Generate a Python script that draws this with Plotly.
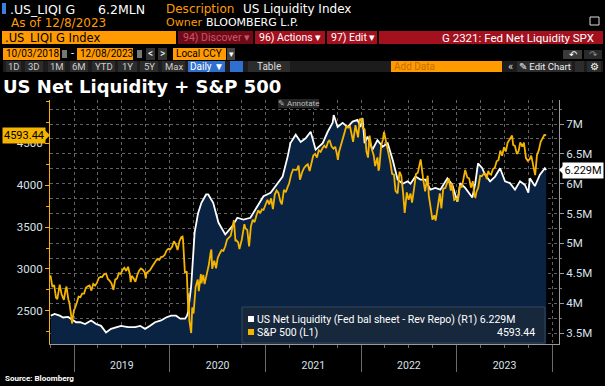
import plotly.graph_objects as go

# ---------------- data ----------------
spx_dates = [
 "2018-10-03","2018-10-10","2018-10-17","2018-10-24","2018-10-29","2018-11-02","2018-11-07","2018-11-14","2018-11-23","2018-11-30",
 "2018-12-03","2018-12-10","2018-12-14","2018-12-20","2018-12-24","2018-12-31",
 "2019-01-04","2019-01-11","2019-01-18","2019-01-25","2019-02-01","2019-02-08","2019-02-15","2019-02-22","2019-03-01","2019-03-08",
 "2019-03-15","2019-03-22","2019-03-29","2019-04-05","2019-04-12","2019-04-18","2019-04-26","2019-05-03","2019-05-10","2019-05-17",
 "2019-05-24","2019-05-31","2019-06-07","2019-06-14","2019-06-21","2019-06-28","2019-07-05","2019-07-12","2019-07-19","2019-07-26",
 "2019-08-02","2019-08-05","2019-08-09","2019-08-16","2019-08-23","2019-08-30","2019-09-06","2019-09-13","2019-09-20","2019-09-27",
 "2019-10-02","2019-10-04","2019-10-11","2019-10-18","2019-10-25","2019-11-01","2019-11-08","2019-11-15","2019-11-22","2019-11-29",
 "2019-12-06","2019-12-13","2019-12-20","2019-12-27",
 "2020-01-03","2020-01-10","2020-01-17","2020-01-24","2020-01-31","2020-02-07","2020-02-14","2020-02-19","2020-02-21","2020-02-28",
 "2020-03-06","2020-03-12","2020-03-13","2020-03-16","2020-03-20","2020-03-23","2020-03-27","2020-04-01","2020-04-09","2020-04-17",
 "2020-04-21","2020-04-29","2020-05-01","2020-05-08","2020-05-13","2020-05-22","2020-05-29","2020-06-05","2020-06-08","2020-06-11",
 "2020-06-19","2020-06-26","2020-07-02","2020-07-10","2020-07-17","2020-07-24","2020-07-31","2020-08-07","2020-08-14","2020-08-21",
 "2020-08-28","2020-09-02","2020-09-08","2020-09-11","2020-09-18","2020-09-23","2020-10-02","2020-10-12","2020-10-16","2020-10-23",
 "2020-10-30","2020-11-06","2020-11-13","2020-11-20","2020-11-27","2020-12-04","2020-12-11","2020-12-18","2020-12-24","2020-12-31",
 "2021-01-08","2021-01-15","2021-01-22","2021-01-29","2021-02-05","2021-02-12","2021-02-19","2021-02-26","2021-03-04","2021-03-12",
 "2021-03-19","2021-03-26","2021-04-01","2021-04-09","2021-04-16","2021-04-23","2021-04-30","2021-05-07","2021-05-12","2021-05-21",
 "2021-05-28","2021-06-04","2021-06-11","2021-06-18","2021-06-25","2021-07-02","2021-07-09","2021-07-16","2021-07-23","2021-07-30",
 "2021-08-06","2021-08-13","2021-08-20","2021-08-27","2021-09-02","2021-09-10","2021-09-17","2021-09-24","2021-10-01","2021-10-04",
 "2021-10-08","2021-10-15","2021-10-22","2021-10-29","2021-11-05","2021-11-12","2021-11-19","2021-11-26","2021-12-01","2021-12-10",
 "2021-12-17","2021-12-20","2021-12-27","2021-12-31",
 "2022-01-03","2022-01-07","2022-01-14","2022-01-21","2022-01-27","2022-02-02","2022-02-11","2022-02-18","2022-02-23","2022-03-04",
 "2022-03-08","2022-03-11","2022-03-18","2022-03-25","2022-03-29","2022-04-08","2022-04-14","2022-04-22","2022-04-29","2022-05-06",
 "2022-05-12","2022-05-20","2022-05-27","2022-06-03","2022-06-10","2022-06-16","2022-06-24","2022-07-01","2022-07-08","2022-07-14",
 "2022-07-22","2022-07-29","2022-08-05","2022-08-12","2022-08-16","2022-08-26","2022-09-02","2022-09-09","2022-09-12","2022-09-16",
 "2022-09-23","2022-09-30","2022-10-07","2022-10-12","2022-10-21","2022-10-28","2022-11-03","2022-11-10","2022-11-18","2022-11-25",
 "2022-12-01","2022-12-09","2022-12-13","2022-12-22","2022-12-30",
 "2023-01-05","2023-01-13","2023-01-20","2023-01-27","2023-02-02","2023-02-10","2023-02-17","2023-02-24","2023-03-03","2023-03-10",
 "2023-03-13","2023-03-17","2023-03-24","2023-03-31","2023-04-06","2023-04-14","2023-04-21","2023-04-25","2023-05-01","2023-05-05",
 "2023-05-12","2023-05-19","2023-05-26","2023-06-02","2023-06-09","2023-06-16","2023-06-23","2023-06-30","2023-07-07","2023-07-14",
 "2023-07-21","2023-07-31","2023-08-04","2023-08-11","2023-08-18","2023-08-25","2023-08-31","2023-09-08","2023-09-14","2023-09-22",
 "2023-09-29","2023-10-06","2023-10-12","2023-10-20","2023-10-27","2023-11-03","2023-11-10","2023-11-17","2023-11-24","2023-12-01",
 "2023-12-08"]
spx_values = [
 2925,2786,2809,2656,2641,2723,2814,2702,2633,2760,
 2790,2637,2600,2467,2351,2507,
 2532,2596,2671,2665,2707,2708,2776,2793,2804,2743,
 2822,2801,2834,2893,2907,2905,2940,2946,2881,2860,
 2826,2752,2873,2887,2950,2942,2990,3014,2977,3026,
 2932,2844,2919,2889,2847,2926,2979,3007,2992,2962,
 2887,2953,2970,2986,3023,3067,3093,3120,3110,3141,
 3146,3169,3221,3240,
 3235,3265,3330,3295,3226,3328,3380,3386,3338,2954,
 2972,2481,2711,2386,2305,2237,2541,2470,2790,2875,
 2737,2940,2831,2930,2820,2955,3044,3194,3232,3002,
 3098,3009,3130,3185,3225,3216,3271,3351,3373,3397,
 3508,3580,3332,3341,3319,3237,3348,3534,3484,3465,
 3270,3510,3585,3558,3638,3699,3663,3709,3703,3756,
 3824,3768,3841,3714,3886,3934,3906,3811,3768,3943,
 3913,3974,4020,4129,4185,4180,4181,4232,4063,4156,
 4204,4230,4247,4166,4281,4352,4370,4327,4412,4395,
 4437,4468,4442,4509,4537,4458,4433,4455,4357,4300,
 4391,4471,4545,4605,4697,4683,4698,4595,4513,4712,
 4621,4568,4791,4766,
 4796,4677,4663,4398,4326,4589,4419,4349,4225,4329,
 4170,4204,4463,4543,4631,4488,4393,4272,4132,4123,
 3930,3901,4158,4109,3901,3667,3912,3825,3899,3790,
 3962,4130,4145,4280,4305,4058,3924,4067,4110,3873,
 3693,3586,3640,3577,3753,3901,3720,3956,3965,4026,
 4077,3934,4019,3822,3840,
 3808,3999,3972,4071,4179,4090,4079,3970,4046,3862,
 3855,3917,3971,4109,4105,4138,4133,4071,4168,4136,
 4124,4191,4205,4282,4299,4410,4348,4450,4399,4505,
 4536,4589,4478,4464,4370,4406,4508,4457,4505,4320,
 4288,4308,4349,4224,4117,4358,4415,4514,4559,4595,
 4593.44]

liq_dates = [
 "2018-10-04","2018-10-19","2018-11-07","2018-11-20","2018-12-09","2018-12-28","2019-01-09","2019-01-24","2019-02-12","2019-03-07",
 "2019-03-26","2019-04-14","2019-05-03","2019-05-22","2019-06-10","2019-06-29","2019-07-26","2019-08-22","2019-09-10","2019-09-29",
 "2019-10-18","2019-11-06","2019-11-29","2019-12-18","2020-01-06","2020-01-25","2020-02-10","2020-02-29","2020-03-07","2020-03-11",
 "2020-03-23","2020-04-05","2020-04-18","2020-05-01","2020-05-19","2020-05-27","2020-06-15","2020-07-05","2020-07-31","2020-08-27",
 "2020-09-15","2020-10-08","2020-11-04","2020-12-05","2020-12-24","2021-01-20","2021-02-16","2021-03-07","2021-03-26","2021-04-06",
 "2021-04-26","2021-05-15","2021-06-03","2021-06-22","2021-07-11","2021-08-07","2021-08-26","2021-09-14","2021-09-18","2021-10-03",
 "2021-10-22","2021-11-10","2021-11-29","2021-12-18","2021-12-29","2022-01-06","2022-01-14","2022-01-25","2022-02-13","2022-03-04",
 "2022-03-24","2022-04-12","2022-05-01","2022-05-20","2022-06-08","2022-06-27","2022-07-08","2022-07-27","2022-08-15","2022-09-03",
 "2022-09-22","2022-10-11","2022-10-30","2022-11-26","2022-12-15","2023-01-03","2023-01-14","2023-02-02","2023-03-01","2023-03-12",
 "2023-03-23","2023-04-08","2023-04-19","2023-05-08","2023-05-27","2023-06-15","2023-07-04","2023-07-23","2023-08-11","2023-08-30",
 "2023-09-18","2023-10-01","2023-10-07","2023-10-26","2023-11-14","2023-12-03","2023-12-08"]
liq_values = [
 3.79,3.82,3.79,3.76,3.77,3.71,3.68,3.68,3.65,3.71,
 3.65,3.62,3.51,3.57,3.60,3.62,3.60,3.60,3.62,3.57,
 3.62,3.68,3.71,3.76,3.79,3.79,3.74,3.74,3.79,3.85,
 4.29,5.18,5.50,5.68,5.82,5.82,5.68,5.35,5.15,5.29,
 5.43,5.40,5.43,5.65,5.79,5.85,6.00,6.12,6.45,6.68,
 6.82,6.70,6.76,6.87,6.57,6.68,6.87,7.02,7.15,6.95,
 7.02,6.95,7.04,7.07,6.95,7.10,6.68,6.79,6.57,6.73,
 6.62,6.68,6.40,6.07,6.00,6.04,6.00,6.12,6.07,6.07,
 5.90,5.93,5.90,6.09,5.98,5.70,6.01,5.93,5.77,6.00,
 6.34,6.26,6.15,6.04,6.12,6.26,6.04,6.01,5.90,6.04,
 5.98,5.85,6.09,5.96,6.15,6.26,6.229]

year_ticks = ["2019-01-01", "2020-01-01", "2021-01-01", "2022-01-01", "2023-01-01", "2024-01-01"]
year_mid = ["2019-07-02", "2020-07-02", "2021-07-02", "2022-07-02", "2023-07-02"]
year_labels = ["2019", "2020", "2021", "2022", "2023"]
liq_name = "US Net Liquidity (Fed bal sheet - Rev Repo) (R1)"
spx_name = "S&P 500 (L1)"

# ---------------- layout helpers (pixel -> paper) ----------------
W, H = 605, 386
L, R, T, B = 50, 559, 100, 344
def fx(px): return (px - L) / (R - L)
def fy(py): return (B - py) / (B - T)

YEL = "#f4b400"
NAVY = "#0a2342"
ORANGE = "#ff9b00"
RED = "#a3101e"
FONT = "Roboto"
HFONT = "DejaVu Sans"
TICKC = "#d8e0ea"

fig = go.Figure()
fig.add_trace(go.Scatter(x=liq_dates, y=liq_values, yaxis="y", mode="lines",
                         line=dict(color="white", width=1.8), fill="tozeroy",
                         fillcolor=NAVY, name=liq_name, hoverinfo="skip"))
fig.add_trace(go.Scatter(x=spx_dates, y=spx_values, yaxis="y2", mode="lines",
                         line=dict(color=YEL, width=1.8), name=spx_name, hoverinfo="skip"))

shapes = []
ann = []
def rect(x0, y0, x1, y1, fill, line=None):
    shapes.append(dict(type="rect", xref="paper", yref="paper", x0=fx(x0), x1=fx(x1),
                       y0=fy(y1), y1=fy(y0), fillcolor=fill,
                       line=dict(width=1 if line else 0, color=line or fill), layer="above"))
def text(x, y, s, color="white", size=12, anchor="left", bold=False, family=FONT):
    if bold:
        s = "<b>" + s + "</b>"
    ann.append(dict(xref="paper", yref="paper", x=fx(x), y=fy(y), text=s, showarrow=False,
                    xanchor=anchor, yanchor="middle", font=dict(color=color, size=size, family=family),
                    borderpad=0))

# header rows 1/2
rect(2, 3, 6, 14, "#3b7fe0")
text(9, 9, ".US_LIQI G", size=12.5, family=HFONT)
text(97, 9, "6.2MLN", size=12.5, family=HFONT)
text(165, 9, "Description", color=ORANGE, size=12, family=HFONT)
text(242, 9, "US Liquidity Index", size=12, family=HFONT)
text(10, 23, "As of 12/8/2023", color=ORANGE, size=12, family=HFONT)
text(165, 23, "Owner", color=ORANGE, size=11, family=HFONT)
text(205, 23, "BLOOMBERG L.P.", size=11, family=HFONT)
rect(590, 17, 599, 25, "#000", line="#dddddd")
# row 3
rect(2, 31, 176, 44, ORANGE)
text(4, 37.5, ".US_LIQI G Index", color="black", size=11.5, family=HFONT)
rect(178, 31, 253, 44, "#6e0b16")
text(182, 37.5, "94) Discover ▾", color="#c8566a", size=10.5)
rect(255, 31, 325, 44, RED)
text(258, 37.5, "96) Actions ▾", size=10.5)
rect(327, 31, 377, 44, RED)
text(330, 37.5, "97) Edit ▾", size=10.5)
rect(379, 31, 603, 44, RED)
text(595, 37.5, "G 2321: Fed Net Liquidity SPX", size=11.5, anchor="right")
# row 4
rect(3, 48, 60, 60, ORANGE)
text(5, 54, "10/03/2018", color="black", size=10)
rect(62, 50, 67, 58, "#777")
text(70, 54, "-", size=11)
rect(77, 48, 133, 60, ORANGE)
text(79, 54, "12/08/2023", color="black", size=10)
rect(137, 50, 142, 58, "#777")
rect(146, 48, 155, 60, "#333")
text(150.5, 54, "&lt;", size=10, anchor="center")
rect(158, 48, 167, 60, "#333")
text(162.5, 54, "&gt;", size=10, anchor="center")
rect(173, 48, 226, 60, ORANGE)
text(175, 54, "Local CCY", color="black", size=10)
rect(227, 48, 235, 60, "#444")
text(231, 54, "▾", size=9, anchor="center")
rect(563, 50, 582, 59, "#3a3a3a")
text(572.5, 54.5, "↶", size=10, anchor="center")
rect(584, 50, 602, 59, "#2a2a2a")
text(593, 54.5, "↷", color="#888", size=10, anchor="center")
# row 5
rect(3, 61, 603, 72, "#1c1c1c")
for lab, a, b in [("1D", 6, 21), ("3D", 25, 43), ("1M", 48, 65), ("6M", 70, 88), ("YTD", 92, 115),
                  ("1Y", 118, 137), ("5Y", 140, 158), ("Max", 162, 185)]:
    rect(a, 61, b, 72, "#2c2c2c")
    text((a + b) / 2, 66.5, lab, color="#cfcfcf", size=9.5, anchor="center")
rect(188, 61, 225, 72, "#2f6fd0")
text(206.5, 66.5, "Daily ▼", size=10, anchor="center")
rect(230, 61, 243, 72, "#2f6fd0")
rect(248, 61, 290, 72, "#2c2c2c")
text(269, 66.5, "Table", color="#dddddd", size=10, anchor="center")
rect(391, 61, 502, 72, ORANGE)
text(393, 66.5, "Add Data", color="#c56e00", size=10)
text(507, 66.5, "«", color="#dddddd", size=11)
rect(517, 61, 572, 72, "#2c2c2c")
text(544.5, 66.5, "✎ Edit Chart", color="#eeeeee", size=9.5, anchor="center")
rect(575, 61, 584, 72, "#2c2c2c")
rect(587, 61, 601, 72, "#2c2c2c")
text(594, 66.5, "⚙", size=10, anchor="center")
# title
text(2, 86, "US Net Liquidity + S&P 500", size=18, bold=True, family=HFONT)
# annotate button
rect(278, 99, 319, 108, "#262626")
text(298.5, 103.5, "✎ Annotate", color="#bbbbbb", size=8, anchor="center")
# legend box
rect(242, 307, 545, 343, "rgba(24,40,60,0.96)", line="#34465c")
rect(248, 316, 254, 322, "white")
rect(248, 329, 254, 335, YEL)
text(256, 319, f"{liq_name} {liq_values[-1]:.3f}M", size=10.5)
text(256, 332, spx_name, size=10.5)
text(536, 332, f"{spx_values[-1]:.2f}", size=10.5, anchor="right")
# source
text(4, 378, "Source: Bloomberg", size=8, bold=True)

# value tags on axes
last_spx = spx_values[-1]
last_liq = liq_values[-1]
ann.append(dict(xref="paper", yref="y2", x=fx(2), y=last_spx, text=f"{last_spx:.2f}", showarrow=False,
                xanchor="left", yanchor="middle", bgcolor=YEL, font=dict(color="black", size=11, family=FONT),
                borderpad=1, width=40))
shapes.append(dict(type="path", xref="paper", yref="y2",
                   path=f"M {fx(44)} {last_spx + 6/0.084} L {fx(50)} {last_spx} L {fx(44)} {last_spx - 6/0.084} Z",
                   fillcolor=YEL, line=dict(width=0), layer="above"))
ann.append(dict(xref="paper", yref="y", x=fx(604), y=last_liq, text=f"{last_liq:.3f}M", showarrow=False,
                xanchor="right", yanchor="middle", bgcolor="white", font=dict(color="black", size=11, family=FONT),
                borderpad=1, width=38))
shapes.append(dict(type="path", xref="paper", yref="y",
                   path=f"M {fx(565)} {last_liq + 6/59.7} L {fx(559)} {last_liq} L {fx(565)} {last_liq - 6/59.7} Z",
                   fillcolor="white", line=dict(width=0), layer="above"))

GRID = "#626262"
XR = ["2018-10-01", "2024-01-26"]
fig.update_layout(
    width=W, height=H, paper_bgcolor="black", plot_bgcolor="black",
    margin=dict(l=L, r=W - R, t=T, b=H - B), showlegend=False,
    font=dict(family=FONT, color=TICKC, size=11),
    shapes=shapes, annotations=ann,
    xaxis=dict(type="date", range=XR, showgrid=True, gridcolor=GRID,
               griddash="dot", gridwidth=1, tickvals=year_ticks, ticks="outside", ticklen=27,
               tickcolor="#6a6a6a", showline=True, linecolor="#9a9a9a", showticklabels=False,
               minor=dict(dtick="M3", tick0="2019-01-01", showgrid=True, gridcolor=GRID, griddash="dot",
                          ticks="outside", ticklen=3, tickcolor="#6a6a6a"),
               zeroline=False),
    xaxis2=dict(type="date", overlaying="x", anchor="y", side="bottom", range=XR,
                tickvals=year_mid, ticktext=year_labels, ticks="", showgrid=False, showline=False,
                tickfont=dict(size=10.5, color=TICKC), ticklabelstandoff=13, zeroline=False),
    yaxis=dict(side="right", range=[3.316, 7.402], dtick=0.5, tick0=3.5, ticksuffix="M",
               showgrid=True, gridcolor=GRID, griddash="dot", ticks="outside", ticklen=4, tickcolor="#9a9a9a",
               showline=True, linecolor="#9a9a9a", zeroline=False, tickfont=dict(size=11.5, color=TICKC),
               minor=dict(dtick=0.25, tick0=3.5, showgrid=True, gridcolor=GRID, griddash="dot",
                          ticks="outside", ticklen=2, tickcolor="#777")),
    yaxis2=dict(side="left", overlaying="y", range=[2107, 5012], tickvals=[2500, 3000, 3500, 4000, 4500],
                showgrid=False, ticks="outside", ticklen=4, tickcolor=YEL, showline=True, linecolor=YEL,
                zeroline=False, tickfont=dict(size=11.5, color=TICKC),
                minor=dict(dtick=250, tick0=2500, ticks="outside", ticklen=3, tickcolor=YEL, showgrid=False)),
)
# invisible trace on xaxis2 so its year labels render
fig.add_trace(go.Scatter(x=[year_mid[0]], y=[liq_values[0]], xaxis="x2", yaxis="y", mode="markers",
                         marker=dict(opacity=0), hoverinfo="skip", showlegend=False))
fig.write_html("out.html", config={"displayModeBar": False, "staticPlot": True},
               post_script="document.body.style.margin='0';document.body.style.padding='0';"
                           "document.body.style.overflow='hidden';document.body.style.background='black';")
